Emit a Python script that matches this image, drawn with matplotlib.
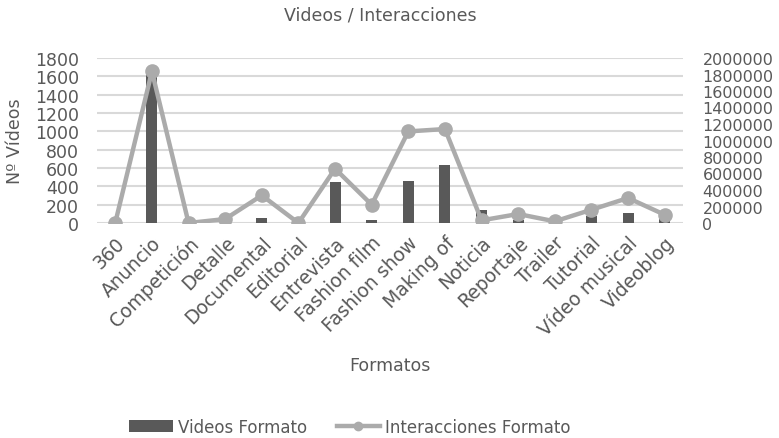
import matplotlib
matplotlib.use("Agg")
import matplotlib.pyplot as plt
from matplotlib.lines import Line2D
from matplotlib.patches import Patch
from matplotlib.ticker import FuncFormatter

plt.rcParams['font.family'] = ['DejaVu Sans']

formatos = ["360", "Anuncio", "Competición", "Detalle", "Documental", "Editorial",
            "Entrevista", "Fashion film", "Fashion show", "Making of", "Noticia",
            "Reportaje", "Trailer", "Tutorial", "Vídeo musical", "Videoblog"]
videos = [3, 1650, 5, 10, 55, 2, 447, 36, 461, 628, 145, 36, 5, 80, 109, 45]
interacciones = [5000, 1838000, 0, 48000, 335000, 0, 658000, 222000,
                 1110000, 1139000, 32000, 109000, 20000, 161000, 303000, 100000]

text_c = "#595959"
bar_c = "#595959"
line_c = "#ababab"
grid_c = "#d9d9d9"

fig = plt.figure(figsize=(7.79, 4.39), dpi=100)
ax = fig.add_axes([97 / 779, 1 - 224 / 439, (683 - 97) / 779, (224 - 59) / 439])
ax2 = ax.twinx()

x = list(range(len(formatos)))
ax.bar(x, videos, width=0.3, color=bar_c, zorder=2)
ax2.plot(x, interacciones, color=line_c, linewidth=3.2, marker='o',
         markersize=9.5, zorder=3, solid_capstyle='round')

ax.set_xlim(-0.5, len(formatos) - 0.5)
ax.set_ylim(0, 1800)
ax.set_yticks(range(0, 1801, 200))
ax2.set_ylim(0, 2000000)
ax2.set_yticks(range(0, 2000001, 200000))
ax2.yaxis.set_major_formatter(FuncFormatter(lambda v, p: f"{int(v)}"))

ax.grid(axis='y', color=grid_c, linewidth=1.5, zorder=0)
ax.set_axisbelow(True)
ax.set_zorder(ax2.get_zorder() - 1)
ax2.patch.set_visible(False)

for a in (ax, ax2):
    for s in a.spines.values():
        s.set_visible(False)
    a.tick_params(length=0, colors=text_c)

ax.tick_params(axis='y', pad=13, labelsize=12.5)
ax2.tick_params(axis='y', pad=14, labelsize=11.5)

ax.set_xticks(x)
ax.set_xticklabels(formatos, rotation=45, ha='right', rotation_mode='anchor',
                   fontsize=13.5, color=text_c)
ax.tick_params(axis='x', pad=7)

ax.set_ylabel("Nº Vídeos", color=text_c, fontsize=12.5)
ax.yaxis.set_label_coords(-(97 - 24) / 586, 0.5)
fig.text(390 / 779, 1 - 366 / 439, "Formatos", ha='center', va='center',
         color=text_c, fontsize=12.5)
fig.text(380 / 779, 1 - 16 / 439, "Videos / Interacciones", ha='center',
         va='center', color=text_c, fontsize=12.5)

handles = [Patch(facecolor=bar_c, edgecolor='none'),
           Line2D([0], [0], color=line_c, linewidth=3.2, marker='o', markersize=6)]
fig.legend(handles, ["Videos Formato", "Interacciones Formato"],
           loc='center', bbox_to_anchor=(350 / 779, 1 - 428 / 439), ncol=2,
           frameon=False, fontsize=12, labelcolor=text_c, handlelength=2.6,
           handletextpad=0.3, columnspacing=1.8)

fig.savefig("out.png", dpi=100)
